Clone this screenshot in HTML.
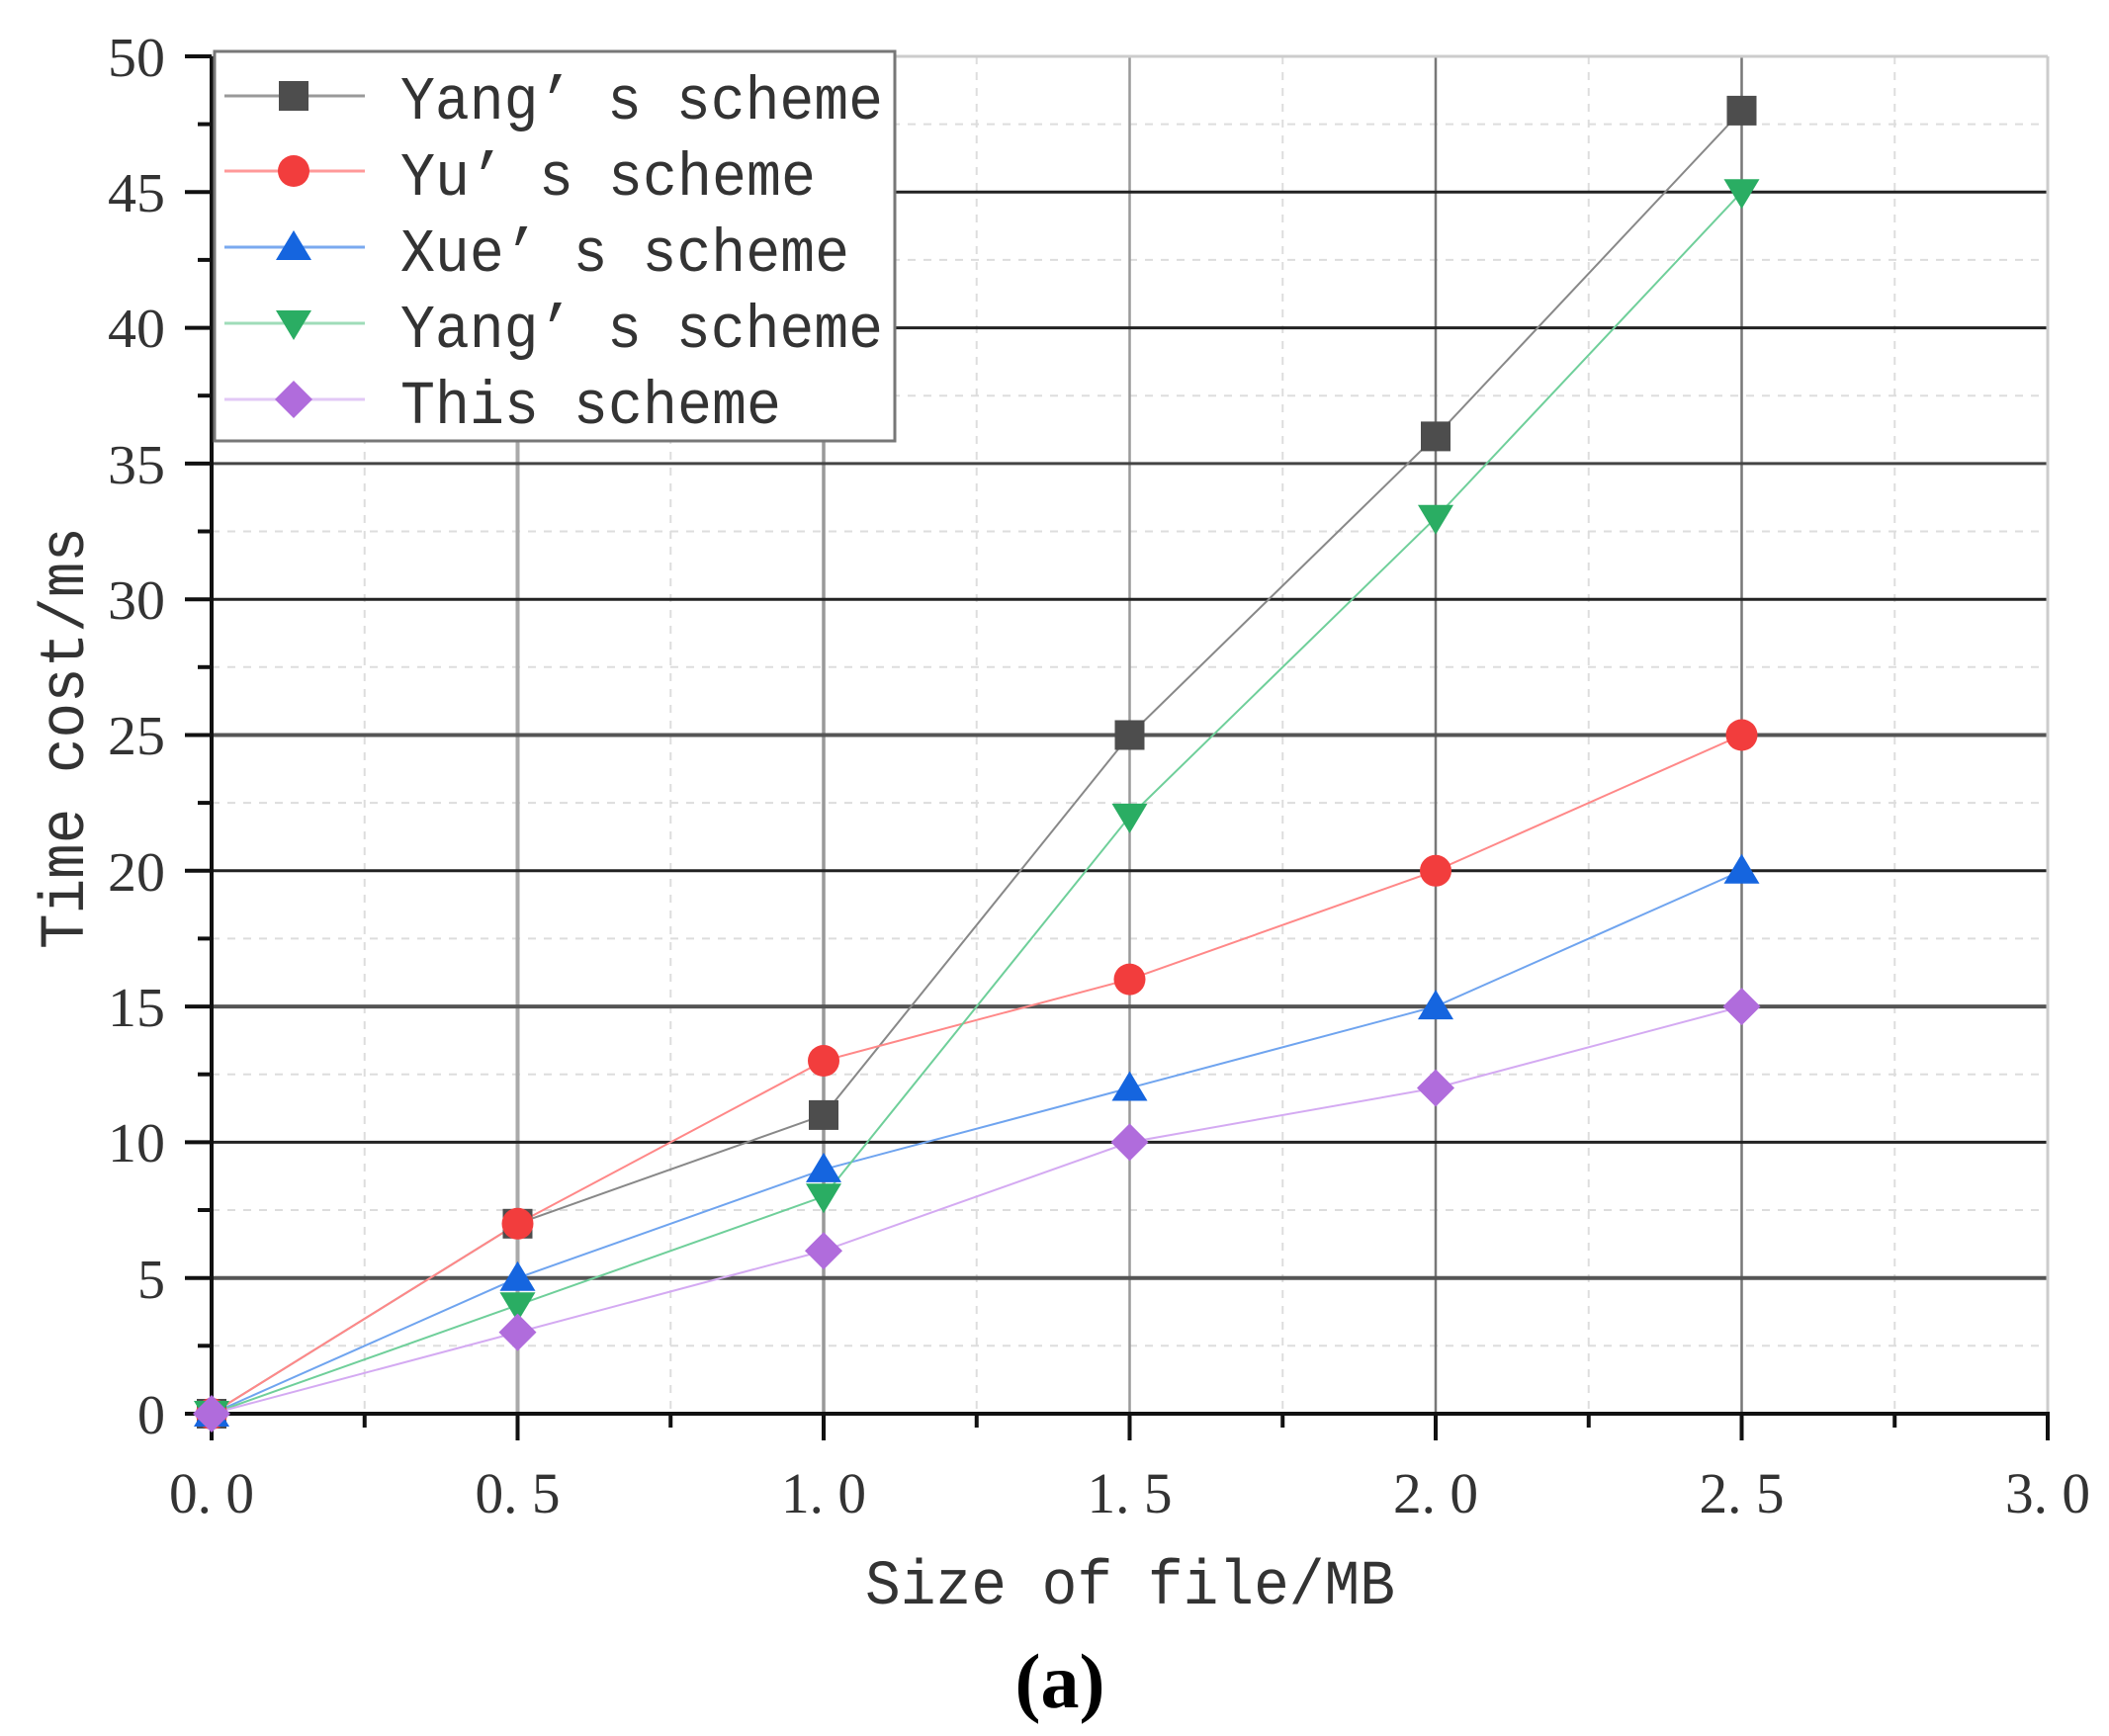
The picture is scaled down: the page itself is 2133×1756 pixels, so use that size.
<!DOCTYPE html>
<html><head><meta charset="utf-8"><style>
html,body{margin:0;padding:0;background:#fff}
svg{display:block}
text{font-family:"Liberation Serif","Noto Serif CJK SC",serif;fill:#333}
.m{font-family:"Liberation Mono","Noto Serif CJK SC",monospace}
</style></head><body>
<svg width="2133" height="1756" viewBox="0 0 2133 1756" xmlns="http://www.w3.org/2000/svg">
<g stroke="#ddd" stroke-width="2" stroke-dasharray="8,8">
<line x1="214" y1="125.6" x2="2071" y2="125.6"/><line x1="214" y1="262.9" x2="2071" y2="262.9"/><line x1="214" y1="400.2" x2="2071" y2="400.2"/><line x1="214" y1="537.5" x2="2071" y2="537.5"/><line x1="214" y1="674.8" x2="2071" y2="674.8"/><line x1="214" y1="812.1" x2="2071" y2="812.1"/><line x1="214" y1="949.4" x2="2071" y2="949.4"/><line x1="214" y1="1086.7" x2="2071" y2="1086.7"/><line x1="214" y1="1224" x2="2071" y2="1224"/><line x1="214" y1="1361.3" x2="2071" y2="1361.3"/>
<line x1="368.75" y1="57" x2="368.75" y2="1430"/><line x1="678.25" y1="57" x2="678.25" y2="1430"/><line x1="987.75" y1="57" x2="987.75" y2="1430"/><line x1="1297.25" y1="57" x2="1297.25" y2="1430"/><line x1="1606.75" y1="57" x2="1606.75" y2="1430"/><line x1="1916.25" y1="57" x2="1916.25" y2="1430"/>
</g>
<g stroke="#888" stroke-width="2.5">
<line x1="523.5" y1="57" x2="523.5" y2="1430" stroke="#aaa" stroke-width="4"/><line x1="833" y1="57" x2="833" y2="1430" stroke="#999" stroke-width="3.5"/><line x1="1142.5" y1="57" x2="1142.5" y2="1430" stroke="#999"/><line x1="1452" y1="57" x2="1452" y2="1430" stroke="#777"/><line x1="1761.5" y1="57" x2="1761.5" y2="1430" stroke="#777"/>
</g>
<g stroke="#222" stroke-width="3">
<line x1="214" y1="194.3" x2="2071" y2="194.3"/><line x1="214" y1="331.6" x2="2071" y2="331.6"/><line x1="214" y1="468.9" x2="2071" y2="468.9" stroke="#444"/><line x1="214" y1="606.2" x2="2071" y2="606.2"/><line x1="214" y1="743.5" x2="2071" y2="743.5" stroke="#555" stroke-width="4"/><line x1="214" y1="880.8" x2="2071" y2="880.8"/><line x1="214" y1="1018.1" x2="2071" y2="1018.1" stroke="#555" stroke-width="4"/><line x1="214" y1="1155.4" x2="2071" y2="1155.4"/><line x1="214" y1="1292.7" x2="2071" y2="1292.7" stroke="#555" stroke-width="4"/>
</g>
<line x1="214" y1="57" x2="2071" y2="57" stroke="#ccc" stroke-width="3"/>
<line x1="2071" y1="57" x2="2071" y2="1430" stroke="#ccc" stroke-width="3"/>
<line x1="214" y1="57" x2="214" y2="1432" stroke="#111" stroke-width="4"/>
<line x1="212" y1="1430" x2="2073" y2="1430" stroke="#111" stroke-width="4"/>
<g stroke="#111" stroke-width="4">
<line x1="187" y1="57" x2="214" y2="57"/><line x1="187" y1="194.3" x2="214" y2="194.3"/><line x1="187" y1="331.6" x2="214" y2="331.6"/><line x1="187" y1="468.9" x2="214" y2="468.9"/><line x1="187" y1="606.2" x2="214" y2="606.2"/><line x1="187" y1="743.5" x2="214" y2="743.5"/><line x1="187" y1="880.8" x2="214" y2="880.8"/><line x1="187" y1="1018.1" x2="214" y2="1018.1"/><line x1="187" y1="1155.4" x2="214" y2="1155.4"/><line x1="187" y1="1292.7" x2="214" y2="1292.7"/><line x1="187" y1="1430" x2="214" y2="1430"/>
<line x1="200" y1="125.6" x2="214" y2="125.6"/><line x1="200" y1="262.9" x2="214" y2="262.9"/><line x1="200" y1="400.2" x2="214" y2="400.2"/><line x1="200" y1="537.5" x2="214" y2="537.5"/><line x1="200" y1="674.8" x2="214" y2="674.8"/><line x1="200" y1="812.1" x2="214" y2="812.1"/><line x1="200" y1="949.4" x2="214" y2="949.4"/><line x1="200" y1="1086.7" x2="214" y2="1086.7"/><line x1="200" y1="1224" x2="214" y2="1224"/><line x1="200" y1="1361.3" x2="214" y2="1361.3"/>
<line x1="214" y1="1430" x2="214" y2="1457"/><line x1="523.5" y1="1430" x2="523.5" y2="1457"/><line x1="833" y1="1430" x2="833" y2="1457"/><line x1="1142.5" y1="1430" x2="1142.5" y2="1457"/><line x1="1452" y1="1430" x2="1452" y2="1457"/><line x1="1761.5" y1="1430" x2="1761.5" y2="1457"/><line x1="2071" y1="1430" x2="2071" y2="1457"/>
<line x1="368.75" y1="1430" x2="368.75" y2="1444"/><line x1="678.25" y1="1430" x2="678.25" y2="1444"/><line x1="987.75" y1="1430" x2="987.75" y2="1444"/><line x1="1297.25" y1="1430" x2="1297.25" y2="1444"/><line x1="1606.75" y1="1430" x2="1606.75" y2="1444"/><line x1="1916.25" y1="1430" x2="1916.25" y2="1444"/>
</g>
<g font-size="56" text-anchor="end">
<text x="167" y="77" textLength="58" lengthAdjust="spacingAndGlyphs">50</text><text x="167" y="214" textLength="58" lengthAdjust="spacingAndGlyphs">45</text><text x="167" y="351" textLength="58" lengthAdjust="spacingAndGlyphs">40</text><text x="167" y="489" textLength="58" lengthAdjust="spacingAndGlyphs">35</text><text x="167" y="626" textLength="58" lengthAdjust="spacingAndGlyphs">30</text><text x="167" y="763" textLength="58" lengthAdjust="spacingAndGlyphs">25</text><text x="167" y="901" textLength="58" lengthAdjust="spacingAndGlyphs">20</text><text x="167" y="1038" textLength="58" lengthAdjust="spacingAndGlyphs">15</text><text x="167" y="1175" textLength="58" lengthAdjust="spacingAndGlyphs">10</text><text x="167" y="1313">5</text><text x="167" y="1450">0</text>
</g>
<g font-size="58">
<text x="171" y="1530" textLength="86" lengthAdjust="spacingAndGlyphs">0. 0</text><text x="480.5" y="1530" textLength="86" lengthAdjust="spacingAndGlyphs">0. 5</text><text x="790" y="1530" textLength="86" lengthAdjust="spacingAndGlyphs">1. 0</text><text x="1099.5" y="1530" textLength="86" lengthAdjust="spacingAndGlyphs">1. 5</text><text x="1409" y="1530" textLength="86" lengthAdjust="spacingAndGlyphs">2. 0</text><text x="1718.5" y="1530" textLength="86" lengthAdjust="spacingAndGlyphs">2. 5</text><text x="2028" y="1530" textLength="86" lengthAdjust="spacingAndGlyphs">3. 0</text>
</g>
<text x="875" y="1622" font-size="64" class="m" textLength="536" lengthAdjust="spacingAndGlyphs">Size of file/MB</text>
<text transform="translate(84,960) rotate(-90)" font-size="64" class="m" textLength="427" lengthAdjust="spacingAndGlyphs">Time cost/ms</text>
<text x="1072" y="1727" font-size="78" font-weight="bold" text-anchor="middle" style="fill:#000">(a)</text>
<g fill="none" stroke-width="2">
<polyline stroke="#888" points="214,1430 523.5,1237.8 833,1127.9 1142.5,743.5 1452,441.4 1761.5,111.9"/>
<polyline stroke="#f88" points="214,1430 523.5,1237.8 833,1073 1142.5,990.6 1452,880.8 1761.5,743.5"/>
<polyline stroke="#6fa4ef" points="214,1430 523.5,1292.7 833,1182.9 1142.5,1100.5 1452,1018.1 1761.5,880.8"/>
<polyline stroke="#6fcf9a" points="214,1430 523.5,1320.2 833,1210.3 1142.5,825.9 1452,523.8 1761.5,194.3"/>
<polyline stroke="#d4aaf2" points="214,1430 523.5,1347.6 833,1265.2 1142.5,1155.4 1452,1100.5 1761.5,1018.1"/>
</g>
<defs>
<rect id="sq" x="-15" y="-15" width="30" height="30" fill="#4d4d4d"/>
<circle id="ci" r="16" fill="#f23d3d"/>
<polygon id="tu" points="0,-17 18,13 -18,13" fill="#1565df"/>
<polygon id="td" points="0,17 18,-13 -18,-13" fill="#2aad63"/>
<polygon id="di" points="0,-19 19,0 0,19 -19,0" fill="#b06cdc"/>
</defs>
<use href="#sq" x="214" y="1430"/><use href="#sq" x="523.5" y="1237.8"/><use href="#sq" x="833" y="1127.9"/><use href="#sq" x="1142.5" y="743.5"/><use href="#sq" x="1452" y="441.4"/><use href="#sq" x="1761.5" y="111.9"/>
<use href="#ci" x="214" y="1430"/><use href="#ci" x="523.5" y="1237.8"/><use href="#ci" x="833" y="1073"/><use href="#ci" x="1142.5" y="990.6"/><use href="#ci" x="1452" y="880.8"/><use href="#ci" x="1761.5" y="743.5"/>
<use href="#tu" x="214" y="1430"/><use href="#tu" x="523.5" y="1292.7"/><use href="#tu" x="833" y="1182.9"/><use href="#tu" x="1142.5" y="1100.5"/><use href="#tu" x="1452" y="1018.1"/><use href="#tu" x="1761.5" y="880.8"/>
<use href="#td" x="214" y="1430"/><use href="#td" x="523.5" y="1320.2"/><use href="#td" x="833" y="1210.3"/><use href="#td" x="1142.5" y="825.9"/><use href="#td" x="1452" y="523.8"/><use href="#td" x="1761.5" y="194.3"/>
<use href="#di" x="214" y="1430"/><use href="#di" x="523.5" y="1347.6"/><use href="#di" x="833" y="1265.2"/><use href="#di" x="1142.5" y="1155.4"/><use href="#di" x="1452" y="1100.5"/><use href="#di" x="1761.5" y="1018.1"/>
<rect x="217" y="52" width="688" height="394" fill="#fff" stroke="#777" stroke-width="3"/>
<g stroke-width="3">
<line x1="227" y1="97" x2="369" y2="97" stroke="#999"/>
<line x1="227" y1="173" x2="369" y2="173" stroke="#f99"/>
<line x1="227" y1="250" x2="369" y2="250" stroke="#7aa9ef"/>
<line x1="227" y1="327" x2="369" y2="327" stroke="#9fdcb9"/>
<line x1="227" y1="404" x2="369" y2="404" stroke="#e2c8f6"/>
</g>
<use href="#sq" x="297" y="97"/><use href="#ci" x="297" y="173"/><use href="#tu" x="297" y="250"/><use href="#td" x="297" y="327"/><use href="#di" x="297" y="404"/>
<g font-size="62" class="m" style="fill:#222">
<text x="405" y="120" class="m" textLength="488" lengthAdjust="spacingAndGlyphs">Yang’ s scheme</text>
<text x="405" y="197" class="m" textLength="420" lengthAdjust="spacingAndGlyphs">Yu’ s scheme</text>
<text x="405" y="274" class="m" textLength="454" lengthAdjust="spacingAndGlyphs">Xue’ s scheme</text>
<text x="405" y="351" class="m" textLength="488" lengthAdjust="spacingAndGlyphs">Yang’ s scheme</text>
<text x="405" y="428" class="m" textLength="385" lengthAdjust="spacingAndGlyphs">This scheme</text>
</g>
</svg>
</body></html>
